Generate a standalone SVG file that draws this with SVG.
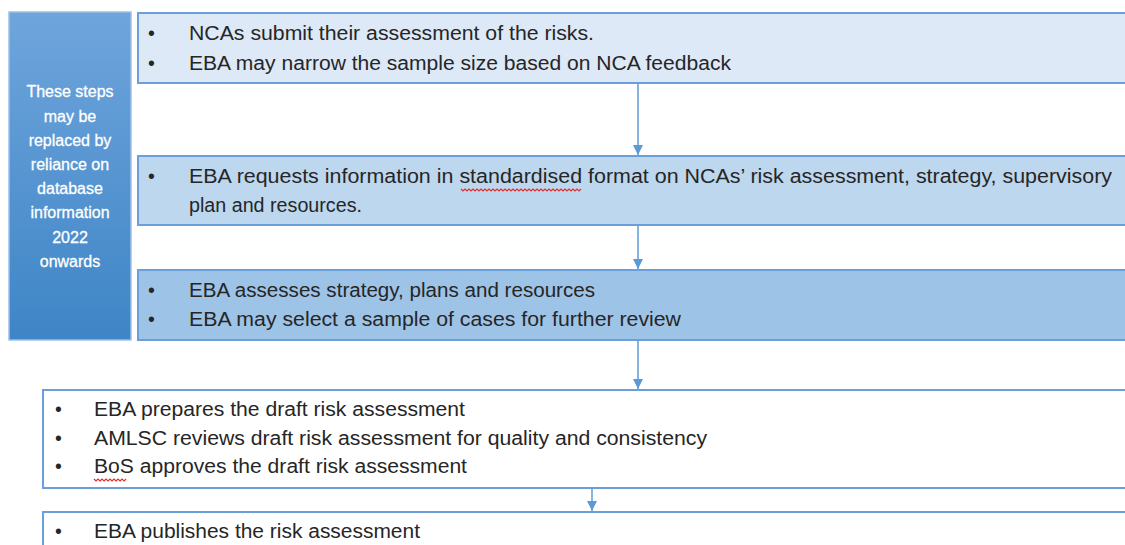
<svg xmlns="http://www.w3.org/2000/svg" width="1125" height="545" viewBox="0 0 1125 545">
<defs>
<linearGradient id="lg" x1="0" y1="0" x2="0" y2="1">
<stop offset="0" stop-color="#6fa5dc"/>
<stop offset="1" stop-color="#3e85c6"/>
</linearGradient>
<marker id="ah" viewBox="0 0 10 10" refX="10" refY="5" markerWidth="10" markerHeight="10" markerUnits="userSpaceOnUse" orient="auto">
<path d="M0,0 L10,5 L0,10 z" fill="#5b9bd5"/>
</marker>
</defs>
<style>
.box{stroke:#6a9fdb;stroke-width:2}
.t{font-family:"Liberation Sans",Arial,sans-serif;font-size:19.5px;fill:#262626}
.side{font-family:"Liberation Sans",Arial,sans-serif;font-size:16px;fill:#ffffff;text-anchor:middle;stroke:#ffffff;stroke-width:0.3}
.con{stroke:#5b9bd5;stroke-width:1.5;fill:none}
.wavy{stroke:#e03030;stroke-width:1.2;fill:none}
</style>
<g id="side">
<rect x="9" y="12" width="122" height="328" fill="url(#lg)" stroke="#9cc0e8" stroke-width="1.5"/>
<text class="side" x="70" y="97">These steps</text>
<text class="side" x="70" y="122">may be</text>
<text class="side" x="70" y="146">replaced by</text>
<text class="side" x="70" y="170">reliance on</text>
<text class="side" x="70" y="194">database</text>
<text class="side" x="70" y="218">information</text>
<text class="side" x="70" y="243">2022</text>
<text class="side" x="70" y="267">onwards</text>
</g>
<g id="n1">
<rect class="box" x="138" y="13" width="1000" height="70" fill="#dde9f6"/>
<text class="t" x="148" y="40">•</text>
<text class="t" x="189" y="40" textLength="405" lengthAdjust="spacingAndGlyphs">NCAs submit their assessment of the risks.</text>
<text class="t" x="148" y="70">•</text>
<text class="t" x="189" y="70" textLength="542" lengthAdjust="spacingAndGlyphs">EBA may narrow the sample size based on NCA feedback</text>
</g>
<g id="n2">
<rect class="box" x="138" y="156" width="1000" height="69" fill="#bdd7ee"/>
<text class="t" x="148" y="183">•</text>
<text class="t" x="189" y="183" textLength="923" lengthAdjust="spacingAndGlyphs">EBA requests information in standardised format on NCAs’ risk assessment, strategy, supervisory</text>
<text class="t" x="189" y="212" textLength="173" lengthAdjust="spacingAndGlyphs">plan and resources.</text>
<path class="wavy" d="M461,189 l2,2 l2,-2 l2,2 l2,-2 l2,2 l2,-2 l2,2 l2,-2 l2,2 l2,-2 l2,2 l2,-2 l2,2 l2,-2 l2,2 l2,-2 l2,2 l2,-2 l2,2 l2,-2 l2,2 l2,-2 l2,2 l2,-2 l2,2 l2,-2 l2,2 l2,-2 l2,2 l2,-2 l2,2 l2,-2 l2,2 l2,-2 l2,2 l2,-2 l2,2 l2,-2 l2,2 l2,-2 l2,2 l2,-2 l2,2 l2,-2 l2,2 l2,-2 l2,2 l2,-2 l2,2 l2,-2 l2,2 l2,-2 l2,2 l2,-2 l2,2 l2,-2 l2,2 l2,-2 l2,2 l2,-2"/>
</g>
<g id="n3">
<rect class="box" x="138" y="270" width="1000" height="70" fill="#9dc3e6"/>
<text class="t" x="148" y="297">•</text>
<text class="t" x="189" y="297" textLength="406" lengthAdjust="spacingAndGlyphs">EBA assesses strategy, plans and resources</text>
<text class="t" x="148" y="326">•</text>
<text class="t" x="189" y="326" textLength="492" lengthAdjust="spacingAndGlyphs">EBA may select a sample of cases for further review</text>
</g>
<g id="n4">
<rect class="box" x="43" y="390" width="1100" height="98" fill="#ffffff"/>
<text class="t" x="55" y="416">•</text>
<text class="t" x="94" y="416" textLength="371" lengthAdjust="spacingAndGlyphs">EBA prepares the draft risk assessment</text>
<text class="t" x="55" y="445">•</text>
<text class="t" x="94" y="445" textLength="613" lengthAdjust="spacingAndGlyphs">AMLSC reviews draft risk assessment for quality and consistency</text>
<text class="t" x="55" y="473">•</text>
<text class="t" x="94" y="473" textLength="373" lengthAdjust="spacingAndGlyphs">BoS approves the draft risk assessment</text>
<path class="wavy" d="M94,479 l2,2 l2,-2 l2,2 l2,-2 l2,2 l2,-2 l2,2 l2,-2 l2,2 l2,-2 l2,2 l2,-2 l2,2 l2,-2 l2,2 l2,-2"/>
</g>
<g id="n5">
<rect class="box" x="43" y="512" width="1100" height="60" fill="#ffffff"/>
<text class="t" x="55" y="538">•</text>
<text class="t" x="94" y="538" textLength="326" lengthAdjust="spacingAndGlyphs">EBA publishes the risk assessment</text>
</g>
<g id="connectors">
<line class="con" x1="638" y1="84" x2="638" y2="155" marker-end="url(#ah)"/>
<line class="con" x1="638" y1="226" x2="638" y2="269" marker-end="url(#ah)"/>
<line class="con" x1="638" y1="341" x2="638" y2="389" marker-end="url(#ah)"/>
<line class="con" x1="592" y1="489" x2="592" y2="511" marker-end="url(#ah)"/>
</g>
</svg>
